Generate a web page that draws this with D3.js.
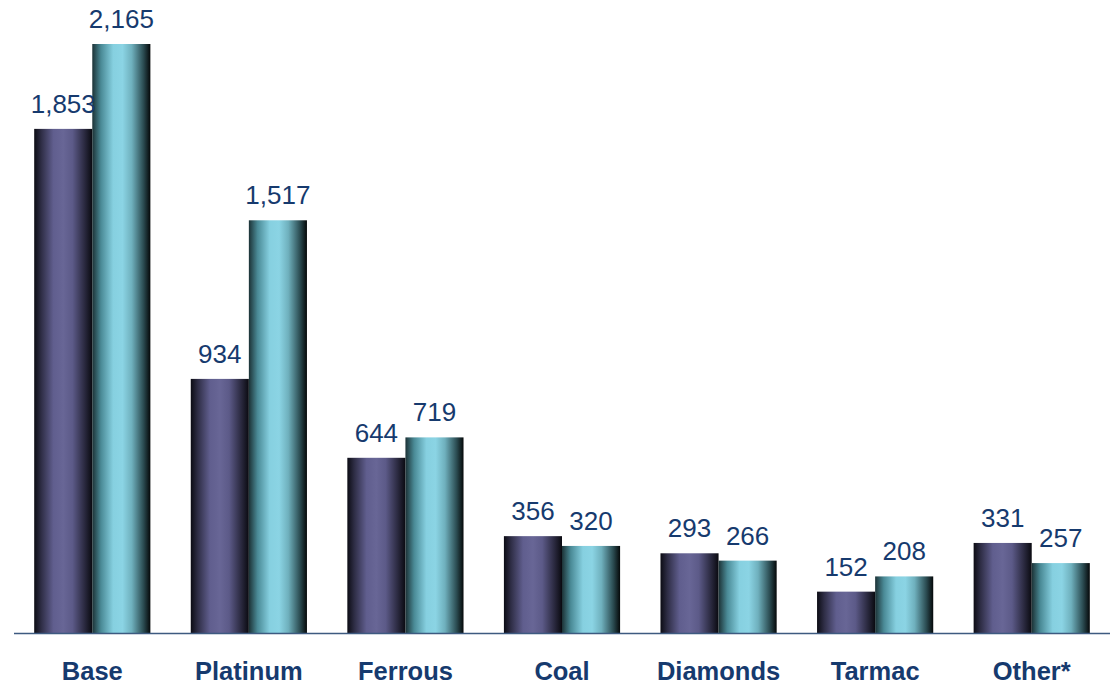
<!DOCTYPE html>
<html><head><meta charset="utf-8">
<script src="https://cdn.jsdelivr.net/npm/d3@7"></script>
<style>body{margin:0;background:#fff}svg{display:block}</style>
</head><body>
<svg id="c" width="1110" height="686"></svg>
<script>
const categories = ["Base","Platinum","Ferrous","Coal","Diamonds","Tarmac","Other*"];
const series1 = [1853,934,644,356,293,152,331];
const series2 = [2165,1517,719,320,266,208,257];
const seriesNames = ["s1","s2"];

const svg = d3.select("#c");
const W = 1110, H = 686;
const m = {left:14, right:0, top:0, baseline:633};
const x = d3.scaleBand().domain(categories).range([m.left, W]).paddingInner(0.258).paddingOuter(0.129);
const xs = d3.scaleBand().domain(seriesNames).range([0, x.bandwidth()]);
const y = d3.scaleLinear().domain([0, 2165]).range([m.baseline, 44]);

const defs = svg.append("defs");
function grad(id, stops){
  const g = defs.append("linearGradient").attr("id", id).attr("x1","0%").attr("x2","100%").attr("y1","0%").attr("y2","0%");
  stops.forEach(s => g.append("stop").attr("offset", s[0]).attr("stop-color", s[1]));
}
grad("g1", [["0%","#0c0c14"],["12%","#2e2d45"],["33%","#605e8e"],["50%","#686696"],["66%","#5c5a88"],["86%","#2c2b42"],["100%","#0a0a10"]]);
grad("g2", [["0%","#1c3236"],["15%","#4a8a96"],["36%","#86d0e0"],["52%","#8bd4e4"],["68%","#6fb0bd"],["88%","#2b4c52"],["100%","#050809"]]);

const data = categories.map((c,i)=>({c, vals:[series1[i], series2[i]]}));
const g = svg.append("g");
const groups = g.selectAll("g.cat").data(data).join("g").attr("transform", d=>`translate(${x(d.c)},0)`);
groups.selectAll("rect").data(d=>d.vals.map((v,j)=>({v, s:seriesNames[j], j})))
  .join("rect")
  .attr("x", d=>xs(d.s)).attr("width", xs.bandwidth())
  .attr("y", d=>y(d.v)).attr("height", d=>y(0)-y(d.v))
  .attr("fill", d=>d.j===0?"url(#g1)":"url(#g2)");
groups.selectAll("text").data(d=>d.vals.map((v,j)=>({v, s:seriesNames[j]})))
  .join("text")
  .attr("x", d=>xs(d.s)+xs.bandwidth()/2).attr("y", d=>y(d.v)-16)
  .attr("text-anchor","middle")
  .attr("font-family","Liberation Sans, Arial, sans-serif").attr("font-size",26)
  .attr("fill","#163a6e")
  .text(d=>d3.format(",")(d.v));

svg.append("line").attr("x1", m.left).attr("x2", W).attr("y1", y(0)+0.5).attr("y2", y(0)+0.5)
  .attr("stroke","#3d5a80").attr("stroke-width",1.5);

const xAxis = d3.axisBottom(x).tickSize(0).tickPadding(0);
const ax = svg.append("g").attr("transform",`translate(0,${y(0)})`).call(xAxis);
ax.select(".domain").remove();
ax.selectAll("text").attr("y", 47).attr("dy",0)
  .attr("font-family","Liberation Sans, Arial, sans-serif").attr("font-size",25.5).attr("font-weight","bold")
  .attr("fill","#163a6e");
</script>
</body></html>
